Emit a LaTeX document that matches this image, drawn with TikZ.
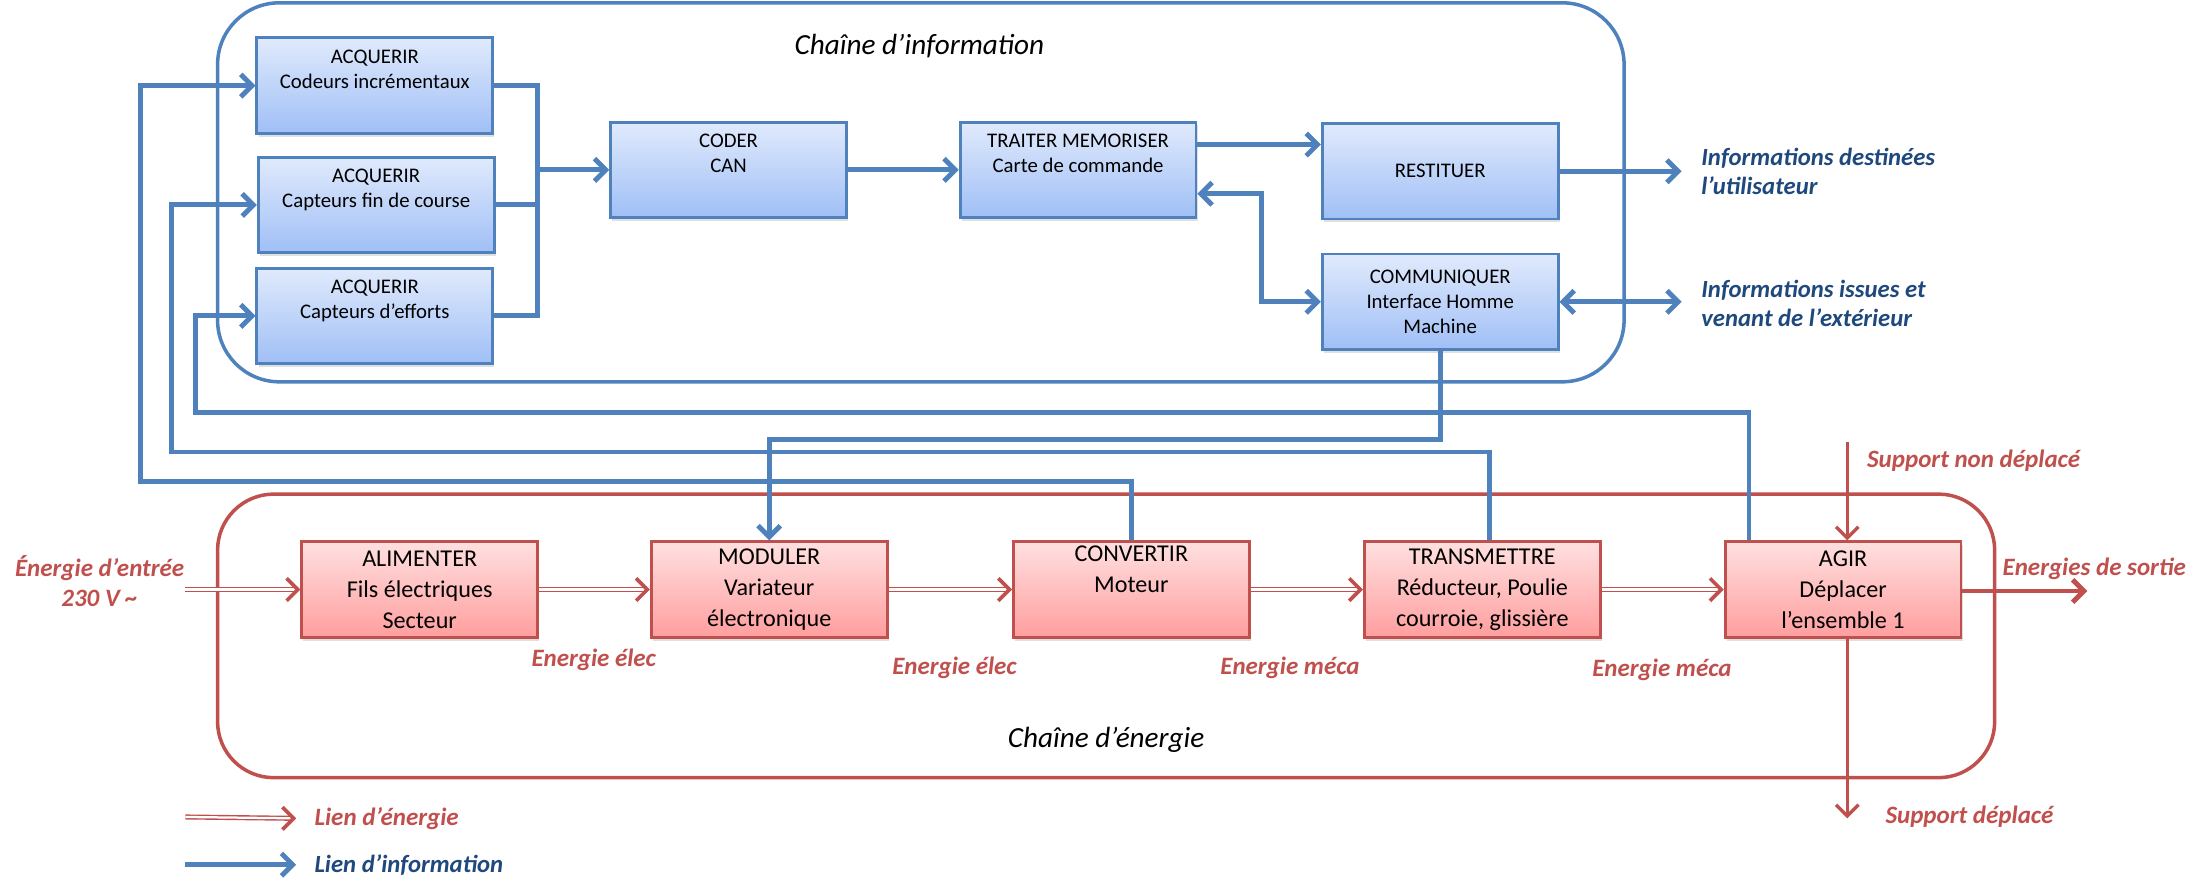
\documentclass[tikz,border=0pt]{standalone}
\usepackage{fontspec}
\setmainfont{Carlito}
\usetikzlibrary{arrows.meta,shadows}
\definecolor{infoblue}{HTML}{4F81BD}
\definecolor{enred}{HTML}{C0504D}
\definecolor{infotext}{HTML}{1F497D}
\definecolor{infotop}{HTML}{E0EAFC}
\definecolor{infobot}{HTML}{A0BFF6}
\definecolor{entop}{HTML}{FFE0E0}
\definecolor{enbot}{HTML}{FF9E9E}
\tikzset{
  infobox/.style={draw=infoblue, line width=1pt, top color=infotop, bottom color=infobot,
    minimum width=84pt, minimum height=34pt, align=center, font=\fontsize{7.4}{9}\selectfont,
    drop shadow={shadow xshift=0.6pt, shadow yshift=-1.2pt, opacity=0.25}},
  enbox/.style={draw=enred, line width=1pt, top color=entop, bottom color=enbot,
    minimum width=84pt, minimum height=34pt, inner ysep=1pt, align=center, font=\fontsize{8.6}{11}\selectfont,
    drop shadow={shadow xshift=0.6pt, shadow yshift=-1.2pt, opacity=0.25}},
  infowire/.style={draw=infoblue, line width=1.75pt},
  infolink/.style={infowire, -{Straight Barb[length=4pt,width=8pt]}},
  infoboth/.style={infowire, {Straight Barb[length=4pt,width=8pt]}-{Straight Barb[length=4pt,width=8pt]}},
  enline/.style={draw=enred, line width=0.5pt, double=white, double distance=0.8pt, shorten >=1pt},
  entip/.style={draw=enred, line width=1.3pt, -{Straight Barb[length=4pt,width=8pt]}},
  enwire/.style={draw=enred, line width=1.2pt, -{Straight Barb[length=4pt,width=8pt]}},
  infolabel/.style={text=infotext, align=left, font=\fontsize{8.8}{10.5}\selectfont\bfseries\itshape},
  enlabel/.style={text=enred, align=center, font=\fontsize{8.9}{10.5}\selectfont\bfseries\itshape},
  chaintitle/.style={font=\fontsize{10.4}{12}\selectfont\itshape}
}
\begin{document}
\begin{tikzpicture}[x=0.5pt,y=-0.5pt]
  \useasboundingbox (0,0) rectangle (1568,637.6);
  % les deux chaines
  \draw[infoblue, line width=1.25pt, rounded corners=22pt] (155,2) rectangle (1157,272);
  \draw[enred, line width=1.25pt, rounded corners=20pt] (155,352) rectangle (1421,554);
  \node[chaintitle] (titinfo) at (655,33) {Chaîne d'information};
  \node[chaintitle] (titen) at (788,527) {Chaîne d'énergie};

  % chaine d'information
  \node[infobox] (acq1) at (267,61) {ACQUERIR\\Codeurs incrémentaux\\\strut};
  \node[infobox] (acq2) at (268,146) {ACQUERIR\\Capteurs fin de course\\\strut};
  \node[infobox] (acq3) at (267,225) {ACQUERIR\\Capteurs d'efforts\\\strut};
  \node[infobox] (coder) at (519,121) {CODER\\CAN\\\strut};
  \node[infobox] (traiter) at (768,121) {TRAITER MEMORISER\\Carte de commande\\\strut};
  \node[infobox] (restit) at (1026,122) {RESTITUER};
  \node[infobox] (comm) at (1026,215) {COMMUNIQUER\\Interface Homme\\Machine};

  \coordinate (bus) at (383,121);
  \draw[infowire] (acq1.east) -| (bus);
  \draw[infowire] (acq2.east) -| (bus);
  \draw[infowire] (acq3.east) -| (bus);
  \draw[infolink] (bus) -- (coder.west);
  \draw[infolink] (coder.east) -- (traiter.west);
  \draw[infolink] ([yshift=9pt]traiter.east) -- ([yshift=9pt]traiter.east -| restit.west);
  \draw[infoboth] ([yshift=-8.5pt]traiter.east) -- ++(23pt,0) |- (comm.west);

  \coordinate (userout) at (1198,122);
  \coordinate (extout) at (1198,215);
  \draw[infolink] (restit.east) -- (userout);
  \draw[infoboth] (comm.east) -- (extout);
  \node[infolabel, anchor=west] (lbluser) at (1205,122) {Informations destinées\\l'utilisateur};
  \node[infolabel, anchor=west] (lblext) at (1205,216) {Informations issues et\\venant de l'extérieur};

  % chaine d'energie
  \node[enbox] (alim) at (299,420) {ALIMENTER\\Fils électriques\\Secteur};
  \node[enbox] (modul) at (548,420) {MODULER\\Variateur\\électronique};
  \node[enbox] (conv) at (806,420) {CONVERTIR\\Moteur\\\strut};
  \node[enbox] (trans) at (1056,420) {TRANSMETTRE\\Réducteur, Poulie\\courroie, glissière};
  \node[enbox] (agir) at (1313,420) {AGIR\\Déplacer\\l'ensemble 1};

  \coordinate (enin) at (132,420);
  \draw[enline] (enin) -- (alim.west);
  \draw[entip] ([xshift=-1pt]alim.west) -- (alim.west);
  \foreach \a/\b in {alim/modul, modul/conv, conv/trans, trans/agir} {
    \draw[enline] (\a.east) -- (\b.west);
    \draw[entip] ([xshift=-1pt]\b.west) -- (\b.west);
  }
  \coordinate (enout) at (1487,421);
  \draw[enred, line width=1.75pt, -{Straight Barb[length=4pt,width=8pt]}] ([yshift=-0.5pt]agir.east) -- (enout);
  \coordinate (supin) at (1316,315);
  \coordinate (supout) at (1316,583);
  \draw[enwire] (supin) -- ([xshift=1.5pt]agir.north);
  \draw[enwire] ([xshift=1.5pt]agir.south) -- (supout);

  \node[enlabel] (lblin) at (71,414) {Énergie d'entrée\\230 V \textasciitilde};
  \node[enlabel] (lbl1) at (423,470) {Energie élec};
  \node[enlabel] (lbl2) at (680,476) {Energie élec};
  \node[enlabel] (lbl3) at (919,476) {Energie méca};
  \node[enlabel] (lbl4) at (1184,477) {Energie méca};
  \node[enlabel] (lblsortie) at (1492,405) {Energies de sortie};
  \node[enlabel] (lblsupin) at (1406,328) {Support non déplacé};
  \node[enlabel] (lblsupout) at (1403,582) {Support déplacé};

  % retours vers la chaine d'information
  \draw[infolink] (conv.north) |- (100,343) |- (acq1.west);
  \draw[infolink] ([xshift=2.5pt]trans.north) |- (122,322) |- (acq2.west);
  \draw[infolink] ([xshift=-33.5pt]agir.north) |- (139,294) |- (acq3.west);
  \draw[infolink] (comm.south) |- (548,313) -| (modul.north);

  % legende
  \node[enlabel, anchor=west] (legen) at (217,583) {Lien d'énergie};
  \node[infolabel, anchor=west] (leginfo) at (217,616) {Lien d'information};
  \coordinate (legena) at (132,582);
  \coordinate (leginfoa) at (132,616);
  \draw[enline] (legena) -- ([xshift=-3pt]legen.west);
  \draw[entip] ([xshift=-4pt]legen.west) -- ([xshift=-3pt]legen.west);
  \draw[infolink] (leginfoa) -- ([xshift=-3pt]leginfo.west);
\end{tikzpicture}
\end{document}
